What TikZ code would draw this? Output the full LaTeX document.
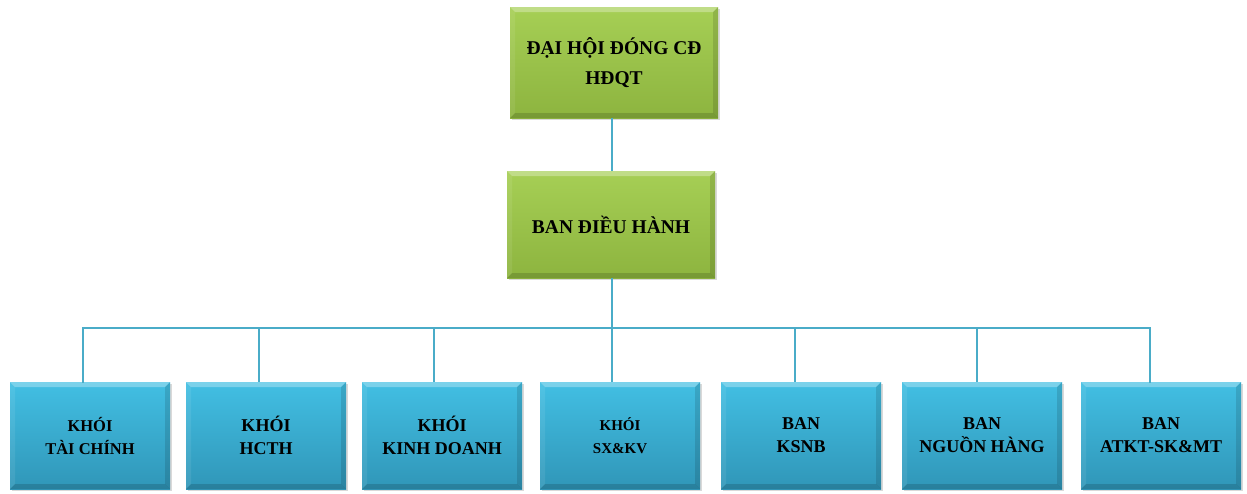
\documentclass[tikz,border=0pt]{standalone}
\usepackage{fontspec}
\setmainfont{Liberation Serif}
\usetikzlibrary{shadows}
\definecolor{gtop}{HTML}{A6CF55}
\definecolor{gbot}{HTML}{8DB43F}
\definecolor{btop}{HTML}{42BFE3}
\definecolor{bbot}{HTML}{3096B8}
\definecolor{linec}{HTML}{4AACC8}
\tikzset{
  bevel/.style={path picture={
    \fill[white,opacity=0.3] (path picture bounding box.north west) -- (path picture bounding box.north east)
      -- ([xshift=-5pt,yshift=-5pt]path picture bounding box.north east) -- ([xshift=5pt,yshift=-5pt]path picture bounding box.north west) -- cycle;
    \fill[white,opacity=0.08] (path picture bounding box.north west) -- ([xshift=5pt,yshift=-5pt]path picture bounding box.north west)
      -- ([xshift=5pt,yshift=5pt]path picture bounding box.south west) -- (path picture bounding box.south west) -- cycle;
    \fill[black,opacity=0.12] (path picture bounding box.north east) -- ([xshift=-5pt,yshift=-5pt]path picture bounding box.north east)
      -- ([xshift=-5pt,yshift=5pt]path picture bounding box.south east) -- (path picture bounding box.south east) -- cycle;
    \fill[black,opacity=0.15] (path picture bounding box.south west) -- ([xshift=5pt,yshift=5pt]path picture bounding box.south west)
      -- ([xshift=-5pt,yshift=5pt]path picture bounding box.south east) -- (path picture bounding box.south east) -- cycle;
  }},
  greenbox/.style={rectangle, top color=gtop, bottom color=gbot, bevel,
    drop shadow={shadow xshift=2pt,shadow yshift=-2pt,opacity=0.3},
    minimum width=208pt, align=center, inner sep=0pt,
    font=\bfseries\fontsize{19.5}{30}\selectfont},
  bluebox/.style={rectangle, top color=btop, bottom color=bbot, bevel,
    drop shadow={shadow xshift=2pt,shadow yshift=-2pt,opacity=0.3},
    minimum width=160pt, minimum height=107pt, align=center, inner sep=0pt,
    font=\bfseries\fontsize{18}{23}\selectfont},
  conn/.style={draw=linec, line width=2.8pt}
}
\begin{document}
\begin{tikzpicture}[x=1pt,y=-1pt]
\useasboundingbox (0,0) rectangle (1247,493);
\node[greenbox, minimum height=111pt] (dh) at (614,62.5) {ĐẠI HỘI ĐÓNG CĐ\\HĐQT};
\node[greenbox, minimum height=107pt] (bdh) at (611,224.5) {BAN ĐIỀU HÀNH};
\node[bluebox, font=\bfseries\fontsize{16.5}{23}\selectfont] (b1) at (90,435.5) {KHÓI\\TÀI CHÍNH};
\node[bluebox] (b2) at (266,435.5) {KHÓI\\HCTH};
\node[bluebox] (b3) at (442,435.5) {KHÓI\\KINH DOANH};
\node[bluebox, font=\bfseries\fontsize{15}{23}\selectfont] (b4) at (620,435.5) {KHÓI\\SX\&KV};
\node[bluebox] (b5) at (801,435.5) {BAN\\KSNB};
\node[bluebox] (b6) at (982,435.5) {BAN\\NGUỒN HÀNG};
\node[bluebox] (b7) at (1161,435.5) {BAN\\ATKT-SK\&MT};
\coordinate (bar) at (612,328);
\draw[conn] (dh.south -| bar) -- (bdh.north -| bar);
\draw[conn] (bdh.south -| bar) -- (bar);
\draw[conn, line cap=rect] ([xshift=-7pt]b1.north) |- (bar) -| ([xshift=-11pt]b7.north);
\draw[conn] ([xshift=-7pt]b2.north) -- ([xshift=-7pt]b2.north |- bar);
\draw[conn] ([xshift=-8pt]b3.north) -- ([xshift=-8pt]b3.north |- bar);
\draw[conn] ([xshift=-8pt]b4.north) -- ([xshift=-8pt]b4.north |- bar);
\draw[conn] ([xshift=-6pt]b5.north) -- ([xshift=-6pt]b5.north |- bar);
\draw[conn] ([xshift=-5pt]b6.north) -- ([xshift=-5pt]b6.north |- bar);
\end{tikzpicture}
\end{document}
